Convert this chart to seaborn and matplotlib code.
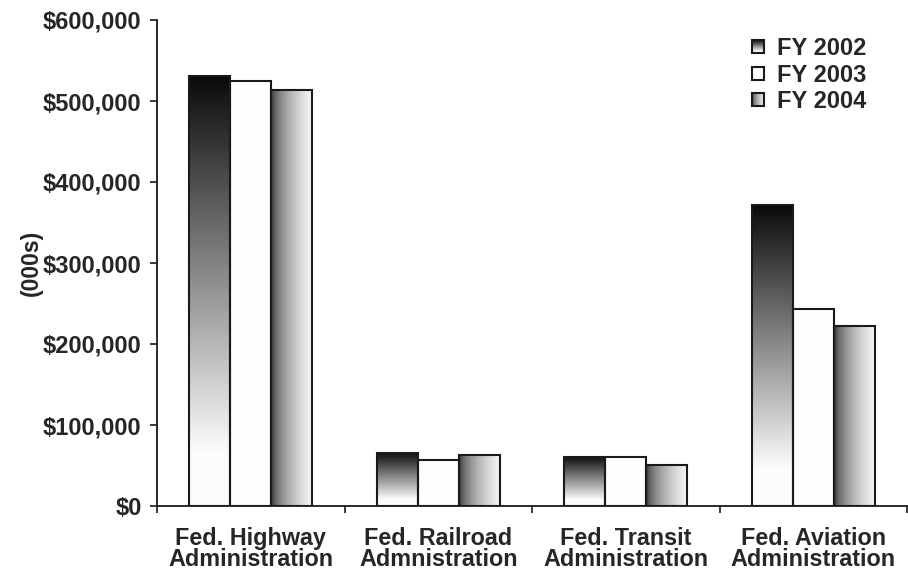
import numpy as np
import pandas as pd
import matplotlib
matplotlib.use("Agg")
import matplotlib.pyplot as plt
import seaborn as sns
from matplotlib.patches import Rectangle
from matplotlib.legend_handler import HandlerBase
from matplotlib.image import BboxImage
from matplotlib.transforms import Bbox, TransformedBbox
from matplotlib.ticker import FuncFormatter, FixedLocator

# values, in thousands of dollars
agencies = ["Fed. Highway\nAdministration", "Fed. Railroad\nAdmnistration",
            "Fed. Transit\nAdministration", "Fed. Aviation\nAdministration"]
years = ["FY 2002", "FY 2003", "FY 2004"]
fy2002 = [531000, 66000, 61000, 371000]
fy2003 = [525000, 57000, 61000, 243000]
fy2004 = [513000, 63000, 51000, 222000]
yticks = [0, 100000, 200000, 300000, 400000, 500000, 600000]

df = pd.DataFrame({
    "agency": agencies * 3,
    "year": np.repeat(years, len(agencies)),
    "amount": fy2002 + fy2003 + fy2004,
})

sns.set_theme(style="white")
plt.rcParams["font.family"] = ["Liberation Sans", "DejaVu Sans"]
plt.rcParams["font.weight"] = "bold"

# gradient fills (0 = black, 1 = white)
grad_v = np.clip(np.linspace(0.04, 1.12, 256), 0, 0.985)[:, None]      # dark top -> white bottom
grad_h = (0.12 + 0.85 * np.sqrt(np.linspace(0, 1, 256)))[None, :]      # dark left -> white right
grad_w = np.full((2, 2), 0.995)
fills = {"FY 2002": grad_v, "FY 2003": grad_w, "FY 2004": grad_h}

fig = plt.figure(figsize=(9.08, 5.74), dpi=100)
ax = fig.add_axes([157 / 908, 68 / 574, 750 / 908, 486 / 574])

edge = "#1a1a1a"
sns.barplot(data=df, x="agency", y="amount", hue="year", hue_order=years,
            palette=["white"] * 3, edgecolor=edge, linewidth=1.5,
            width=0.655, legend=False, ax=ax)

for cont, yr in zip(ax.containers, years):
    for p in cont.patches:
        x0, y0 = p.get_x(), p.get_y()
        w, h = p.get_width(), p.get_height()
        ax.imshow(fills[yr], cmap="gray", vmin=0, vmax=1, aspect="auto",
                  interpolation="bilinear", origin="upper",
                  extent=[x0, x0 + w, y0, y0 + h], zorder=2)
        p.set_facecolor("none")
        p.set_zorder(3)

ax.set_xlim(-0.5, 3.5)
ax.set_ylim(0, 600000)
ax.set_yticks(yticks)
ax.yaxis.set_major_formatter(FuncFormatter(lambda v, _: "${:,.0f}".format(v)))
ax.set_ylabel("(000s)", fontsize=16.5, fontweight="bold", labelpad=0)
ax.set_xlabel("")

# category labels between boundary ticks
ax.xaxis.set_major_locator(FixedLocator([-0.5, 0.5, 1.5, 2.5, 3.5]))
ax.xaxis.set_minor_locator(FixedLocator([0, 1, 2, 3]))
ax.set_xticklabels([""] * 5)
ax.set_xticklabels(agencies, minor=True, fontsize=16.8, fontweight="bold",
                   linespacing=0.92)
ax.tick_params(axis="x", which="major", direction="out", length=5, width=1.2,
               color=edge, bottom=True)
ax.tick_params(axis="x", which="minor", length=0, pad=15)
ax.tick_params(axis="y", direction="out", length=5, width=1.2, color=edge,
               left=True, pad=6, labelsize=17)
for lab in ax.get_yticklabels():
    lab.set_fontweight("bold")

sns.despine(ax=ax)
for s in ["left", "bottom"]:
    ax.spines[s].set_color(edge)
    ax.spines[s].set_linewidth(1.3)
ax.spines["bottom"].set_zorder(4)


class GradHandler(HandlerBase):
    def __init__(self, grad):
        super().__init__()
        self.grad = grad

    def create_artists(self, legend, orig_handle, xdescent, ydescent,
                       width, height, fontsize, trans):
        s = height * 0.8
        x0 = -xdescent + width - s
        y0 = -ydescent + (height - s) / 2
        bb = TransformedBbox(Bbox.from_bounds(x0, y0, s, s), trans)
        img = BboxImage(bb, cmap="gray", norm=plt.Normalize(0, 1),
                        interpolation="bilinear")
        img.set_data(self.grad)
        box = Rectangle((x0, y0), s, s, facecolor="none", edgecolor=edge,
                        lw=1.5, transform=trans)
        return [img, box]


handles = [Rectangle((0, 0), 1, 1) for _ in years]
hmap = {h: GradHandler(fills[yr]) for h, yr in zip(handles, years)}
fig.legend(handles, years, handler_map=hmap, loc="upper left",
           bbox_to_anchor=(750 / 908, 1 - 37 / 574), frameon=False,
           prop={"size": 17, "weight": "bold"}, handlelength=0.6,
           handleheight=0.65, handletextpad=0.55, labelspacing=0.15,
           borderpad=0, borderaxespad=0)

fig.savefig("out.png", dpi=100)
